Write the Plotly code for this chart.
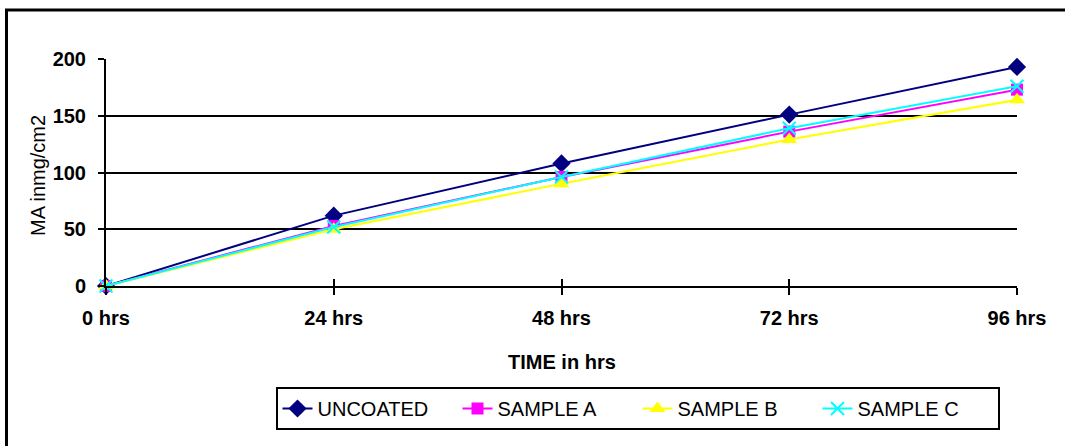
import plotly.graph_objects as go

# Time points (hours) and their axis labels
hours = [0, 24, 48, 72, 96]
hour_labels = ["0 hrs", "24 hrs", "48 hrs", "72 hrs", "96 hrs"]

# Mass gain readings (mg/cm2)
uncoated = [0, 62, 108, 151, 193]
sample_a = [0, 53, 96, 136, 173]
sample_b = [0, 50, 90, 129, 164]
sample_c = [0, 52, 96, 139, 176]

FONT = "Arial, Liberation Sans, sans-serif"

# Plot area in pixels inside the 1065x446 page
L, R, T, B = 106, 1017, 59, 286
W_PX, H_PX = 1065, 446


def px_x(px):
    return (px - L) / (R - L)


def px_y(py):
    return (B - py) / (B - T)


fig = go.Figure()

series = [
    ("UNCOATED", uncoated, "#000080", dict(symbol="diamond", size=14, color="#000080")),
    ("SAMPLE A", sample_a, "#FF00FF", dict(symbol="square", size=12, color="#FF00FF")),
    ("SAMPLE B", sample_b, "#FFFF00", dict(symbol="triangle-up", size=14, color="#FFFF00")),
    ("SAMPLE C", sample_c, "#00FFFF", dict(symbol="x-thin", size=13, color="#00FFFF",
                                           line=dict(color="#00FFFF", width=2))),
]
for name, vals, col, mk in series:
    fig.add_trace(go.Scatter(
        x=hours, y=vals, name=name, mode="lines+markers",
        line=dict(color=col, width=2), marker=mk, cliponaxis=False,
    ))

# Invisible trace so the overlay axis carrying the inner tick halves is drawn
fig.add_trace(go.Scatter(x=hours, y=[0] * len(hours), xaxis="x2", mode="markers",
                         marker=dict(opacity=0), showlegend=False, hoverinfo="skip"))

fig.update_layout(
    width=W_PX, height=H_PX,
    margin=dict(l=L, r=W_PX - R, t=T, b=H_PX - B, pad=0),
    paper_bgcolor="white", plot_bgcolor="white",
    font=dict(family=FONT, color="black", size=20),
    xaxis=dict(
        range=[0, 96], tickmode="array", tickvals=hours, ticktext=hour_labels,
        showgrid=False, zeroline=False, showline=True, linecolor="black", linewidth=2,
        ticks="outside", ticklen=7, tickwidth=2, tickcolor="black",
        tickfont=dict(family=FONT, size=20, weight="bold"), ticklabelstandoff=6,
    ),
    xaxis2=dict(
        range=[0, 96], overlaying="x", anchor="y", side="bottom",
        tickmode="array", tickvals=hours, showticklabels=False,
        showgrid=False, zeroline=False, showline=False,
        ticks="inside", ticklen=7, tickwidth=2, tickcolor="black",
    ),
    yaxis=dict(
        range=[0, 200], tickvals=[0, 50, 100, 150, 200],
        showgrid=True, gridcolor="black", gridwidth=2,
        zeroline=False, showline=True, linecolor="black", linewidth=2,
        ticks="outside", ticklen=6, tickwidth=2, tickcolor="black",
        tickfont=dict(family=FONT, size=20, weight="bold"), ticklabelstandoff=8,
    ),
    legend=dict(
        orientation="h", x=px_x(637.5), xanchor="center", y=px_y(387), yanchor="top",
        bordercolor="black", borderwidth=2, bgcolor="white",
        font=dict(family=FONT, size=20), itemwidth=30,
        entrywidth=135, entrywidthmode="pixels",
    ),
    showlegend=True,
)

# Axis titles
fig.add_annotation(text="TIME in hrs", xref="paper", yref="paper", x=0.5, y=px_y(362),
                   showarrow=False, font=dict(family=FONT, size=20, weight="bold"),
                   xanchor="center", yanchor="middle")
fig.add_annotation(text="MA inmg/cm2", xref="paper", yref="paper", x=px_x(38), y=px_y(176),
                   showarrow=False, textangle=-90, font=dict(family=FONT, size=20),
                   xanchor="center", yanchor="middle")

# Outer chart frame
fig.add_shape(type="rect", xref="paper", yref="paper",
              x0=px_x(6.5), x1=px_x(1080), y0=px_y(460), y1=px_y(10),
              line=dict(color="black", width=3), fillcolor="rgba(0,0,0,0)", layer="below")

fig.write_html("out.html")
